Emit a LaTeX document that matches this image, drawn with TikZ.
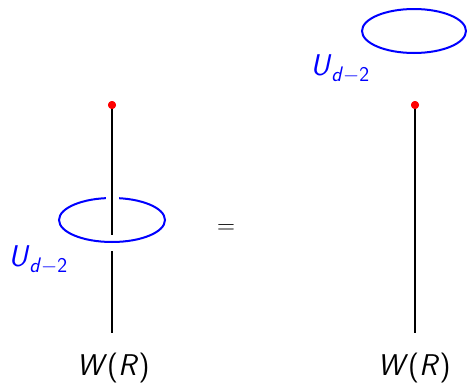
\documentclass[tikz,border=0pt]{standalone}
\usepackage{amsmath}
\newcommand{\sit}[1]{\textsf{\textit{#1}}}
\begin{document}
\begin{tikzpicture}[x=1pt,y=-1pt,
  wline/.style={line width=1.6pt,black},
  loop/.style={line width=2pt,blue},
  dotn/.style={circle,fill=red,inner sep=0pt,minimum size=8pt},
  lbl/.style={font=\fontsize{30}{36}\selectfont,inner sep=0pt},
  ulbl/.style={lbl,text=blue}]
\useasboundingbox (0,0) rectangle (467,386);
% left side
\draw[loop] (112,220) ellipse [x radius=53,y radius=22];
\draw[white,line width=4pt] (106,198) -- (119,198);
\node[dotn] (d1) at (112,105) {};
\coordinate (a1) at (112,235);
\coordinate (b1) at (112,251);
\coordinate (e1) at (112,333);
\draw[wline] (d1.center) -- (a1);
\draw[wline] (b1) -- (e1);
\node[dotn] at (d1) {};
\node[ulbl] (u1) at (38,260) {$\sit{U}_{\sit{d}-\textsf{2}}$};
\node[lbl] (w1) at (113,368) {\sit{W}\textsf{(}\sit{R}\textsf{)}};
% equals
\node[lbl] (eq) at (226,229) {$=$};
% right side
\draw[loop] (414,31) ellipse [x radius=52,y radius=22];
\node[dotn] (d2) at (415,105) {};
\coordinate (e2) at (415,333);
\draw[wline] (d2.center) -- (e2);
\node[dotn] at (d2) {};
\node[ulbl] (u2) at (340,69) {$\sit{U}_{\sit{d}-\textsf{2}}$};
\node[lbl] (w2) at (414,368) {\sit{W}\textsf{(}\sit{R}\textsf{)}};
\end{tikzpicture}
\end{document}
